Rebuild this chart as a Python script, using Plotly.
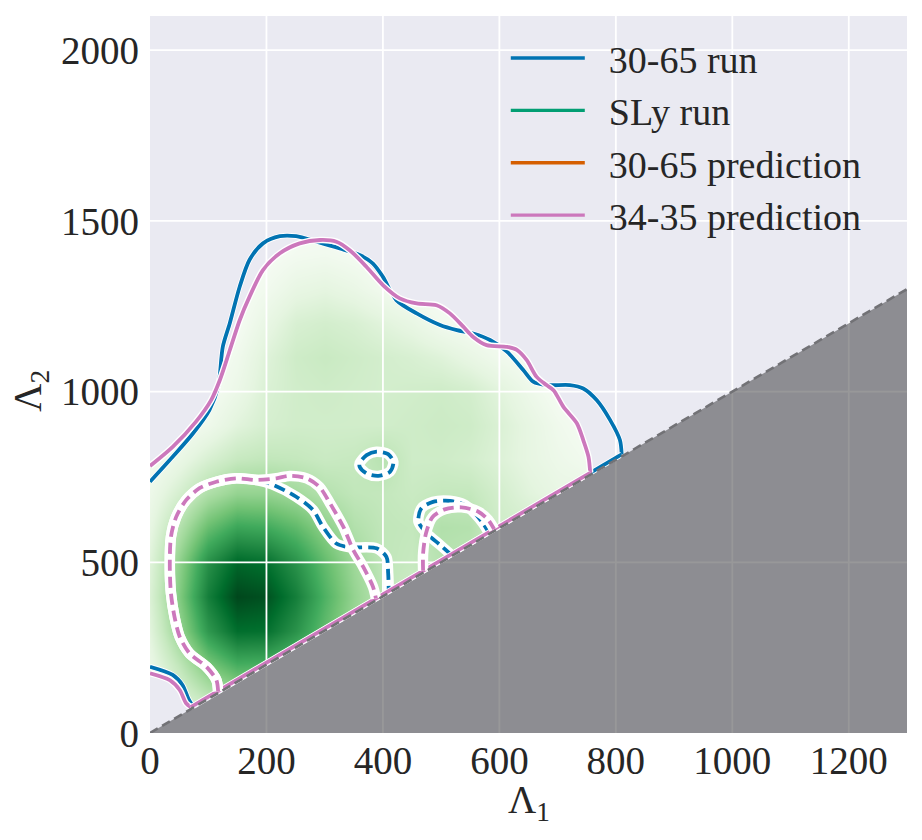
import plotly.graph_objects as go

# ---------------- data ----------------
# density grid (normalised 0..1)
dens_x = [0, 50, 100, 150, 200, 250, 300, 350, 400, 450, 500, 550, 600, 650, 700, 750, 800, 850]
dens_y = [0, 100, 200, 300, 400, 500, 600, 700, 800, 900, 1000, 1100, 1200, 1300, 1400, 1500]
dens_z = [
    [0.10, 0.12, 0.14, 0.15, 0.15, 0.14, 0.12, 0.10, 0.10, 0.10, 0.10, 0.10, 0.10, 0.10, 0.10, 0.10, 0.10, 0.10],
    [0.06, 0.16, 0.27, 0.35, 0.36, 0.30, 0.24, 0.20, 0.20, 0.20, 0.20, 0.20, 0.20, 0.20, 0.20, 0.20, 0.20, 0.20],
    [0.09, 0.27, 0.48, 0.61, 0.60, 0.52, 0.40, 0.29, 0.22, 0.19, 0.18, 0.18, 0.18, 0.18, 0.18, 0.18, 0.18, 0.18],
    [0.14, 0.40, 0.70, 0.87, 0.86, 0.72, 0.54, 0.38, 0.27, 0.22, 0.20, 0.20, 0.20, 0.20, 0.20, 0.20, 0.20, 0.20],
    [0.17, 0.46, 0.80, 0.99, 0.96, 0.80, 0.59, 0.41, 0.28, 0.22, 0.22, 0.22, 0.20, 0.20, 0.20, 0.20, 0.20, 0.20],
    [0.15, 0.42, 0.73, 0.89, 0.86, 0.72, 0.54, 0.38, 0.27, 0.25, 0.30, 0.28, 0.22, 0.20, 0.20, 0.20, 0.20, 0.20],
    [0.11, 0.31, 0.53, 0.65, 0.63, 0.55, 0.43, 0.32, 0.27, 0.26, 0.32, 0.31, 0.22, 0.20, 0.20, 0.20, 0.20, 0.20],
    [0.07, 0.19, 0.33, 0.41, 0.41, 0.37, 0.31, 0.27, 0.26, 0.24, 0.26, 0.26, 0.20, 0.14, 0.10, 0.10, 0.10, 0.10],
    [0.02, 0.09, 0.18, 0.25, 0.27, 0.26, 0.24, 0.25, 0.30, 0.22, 0.22, 0.20, 0.16, 0.11, 0.07, 0.04, 0.02, 0.02],
    [0.00, 0.01, 0.06, 0.14, 0.19, 0.21, 0.21, 0.21, 0.21, 0.22, 0.23, 0.22, 0.17, 0.11, 0.05, 0.01, 0.00, 0.00],
    [0.00, 0.00, 0.01, 0.08, 0.17, 0.21, 0.22, 0.21, 0.20, 0.21, 0.22, 0.20, 0.14, 0.07, 0.01, 0.00, 0.00, 0.00],
    [0.00, 0.00, 0.00, 0.05, 0.15, 0.22, 0.24, 0.22, 0.20, 0.18, 0.15, 0.10, 0.05, 0.01, 0.00, 0.00, 0.00, 0.00],
    [0.00, 0.00, 0.00, 0.01, 0.10, 0.18, 0.20, 0.18, 0.14, 0.10, 0.04, 0.01, 0.00, 0.00, 0.00, 0.00, 0.00, 0.00],
    [0.00, 0.00, 0.00, 0.00, 0.04, 0.10, 0.12, 0.09, 0.04, 0.00, 0.00, 0.00, 0.00, 0.00, 0.00, 0.00, 0.00, 0.00],
    [0.00, 0.00, 0.00, 0.00, 0.00, 0.03, 0.04, 0.02, 0.00, 0.00, 0.00, 0.00, 0.00, 0.00, 0.00, 0.00, 0.00, 0.00],
    [0.00, 0.00, 0.00, 0.00, 0.00, 0.00, 0.00, 0.00, 0.00, 0.00, 0.00, 0.00, 0.00, 0.00, 0.00, 0.00, 0.00, 0.00],
]

# 30-65 run, 90% contour (solid)
run3065_up_x = [0, 39, 74, 102, 117, 125, 137, 154, 171, 194, 223, 251, 286, 326, 360, 383, 400, 423, 458, 498,
                527, 555, 584, 613, 641, 658, 681, 721, 744, 767, 790, 807, 810]
run3065_up_y = [736, 809, 878, 946, 1014, 1131, 1200, 1307, 1386, 1434, 1455, 1455, 1439, 1419, 1400, 1375, 1336,
                1268, 1229, 1195, 1180, 1170, 1151, 1117, 1063, 1029, 1019, 1019, 1009, 975, 917, 858, 816]
run3065_ll_x = [0, 39, 56, 66, 74]
run3065_ll_y = [194, 170, 140, 100, 78]

# 34-35 prediction, 90% contour (solid)
pred3435_up_x = [0, 39, 79, 105, 120, 137, 154, 171, 194, 223, 257, 292, 320, 343, 372, 400, 429, 458, 492, 515,
                 538, 555, 578, 613, 630, 647, 664, 681, 693, 710, 733, 744, 753, 756]
pred3435_up_y = [782, 838, 912, 975, 1034, 1121, 1209, 1278, 1356, 1405, 1434, 1444, 1439, 1414, 1365, 1312, 1273,
                 1258, 1253, 1229, 1190, 1160, 1136, 1131, 1122, 1092, 1043, 1019, 1004, 955, 907, 858, 809, 762]
pred3435_ll_x = [0, 34, 51, 62, 70]
pred3435_ll_y = [175, 155, 126, 87, 76]

# 50% contours (dashed); shared left flank of the main lobe
lobe_left_x = [117, 114, 97, 68, 51, 42, 36, 34, 36, 45, 62, 85, 114, 148, 183]
lobe_left_y = [122, 155, 194, 233, 282, 341, 409, 487, 575, 633, 682, 717, 736, 746, 741]
pred3435_lobe_x = [217, 240, 269, 291, 309, 332, 349, 366, 383, 388]
pred3435_lobe_y = [746, 753, 746, 721, 673, 604, 536, 487, 428, 394]
run3065_lobe_x = [210, 251, 280, 297, 320, 343, 389, 406, 409, 410]
run3065_lobe_y = [728, 692, 653, 604, 555, 544, 541, 516, 468, 414]
run3065_ring_x = [360, 372, 389, 409, 418, 412, 392, 372, 360, 360]
run3065_ring_y = [790, 814, 824, 817, 794, 765, 753, 760, 780, 790]
run3065_loop_x = [518, 498, 475, 461, 466, 486, 515, 541, 558, 572, 581]
run3065_loop_y = [521, 551, 585, 619, 658, 677, 680, 668, 643, 614, 589]
pred3435_loop_x = [469, 469, 474, 485, 506, 535, 564, 581, 591]
pred3435_loop_y = [475, 526, 585, 632, 655, 661, 648, 624, 597]

legend_names = ["30-65 run", "SLy run", "30-65 prediction", "34-35 prediction"]
legend_colors = ["#0173B2", "#029E73", "#D55E00", "#CC78BC"]

x_ticks = [0, 200, 400, 600, 800, 1000, 1200]
y_ticks = [0, 500, 1000, 1500, 2000]
x_max, y_max = 1300, 2100
x_title, y_title = "Λ<sub>1</sub>", "Λ<sub>2</sub>"

BG = "#EAEAF2"
FONT = "Liberation Serif"
BLUE, PINK = legend_colors[0], legend_colors[3]

greens = [[0, "#f7fcf5"], [0.125, "#e5f5e0"], [0.25, "#c7e9c0"], [0.375, "#a1d99b"], [0.5, "#74c476"],
          [0.625, "#41ab5d"], [0.75, "#238b45"], [0.875, "#006d2c"], [1, "#00441b"]]

fig = go.Figure()

# density
fig.add_trace(go.Heatmap(x=dens_x, y=dens_y, z=dens_z, colorscale=greens, zmin=0, zmax=1,
                         zsmooth="best", showscale=False, hoverinfo="skip"))

# mask outside the shaded region (background colour)
mask_x = [0, 0, x_max, x_max, 0] + pred3435_ll_x + pred3435_up_x[::-1]
mask_y = [pred3435_up_y[0], y_max, y_max, 0, 0] + pred3435_ll_y + pred3435_up_y[::-1]
fig.add_trace(go.Scatter(x=mask_x, y=mask_y, fill="toself", fillcolor=BG, mode="lines",
                         line=dict(width=0, color=BG), hoverinfo="skip", showlegend=False))

# grid lines drawn above the density
gx, gy = [], []
for t in x_ticks[1:]:
    gx += [t, t, None]
    gy += [0, y_max, None]
for t in y_ticks[1:]:
    gx += [0, x_max, None]
    gy += [t, t, None]
fig.add_trace(go.Scatter(x=gx, y=gy, mode="lines", line=dict(color="white", width=1.8),
                         hoverinfo="skip", showlegend=False))

# forbidden region Lambda2 < Lambda1
fig.add_trace(go.Scatter(x=[0, x_max, x_max, 0], y=[0, x_max, 0, 0], fill="toself",
                         fillcolor="rgba(40,40,42,0.48)", mode="lines", line=dict(width=0),
                         hoverinfo="skip", showlegend=False))


def contour(xs, ys, color, dash=None, width=3.8, halo=6.5, shape="spline"):
    fig.add_trace(go.Scatter(x=xs, y=ys, mode="lines",
                             line=dict(color="white", width=halo, shape=shape, smoothing=0.8),
                             hoverinfo="skip", showlegend=False))
    ln = dict(color=color, width=width, shape=shape, smoothing=0.8)
    if dash:
        ln["dash"] = dash
    fig.add_trace(go.Scatter(x=xs, y=ys, mode="lines", line=ln, hoverinfo="skip", showlegend=False))


DASH = "11px,6px"
# 30-65 run
contour(run3065_up_x, run3065_up_y, BLUE, halo=5.5)
contour(run3065_ll_x, run3065_ll_y, BLUE, halo=5.5)
contour([run3065_ll_x[-1], run3065_up_x[-1]], [run3065_ll_y[-1], run3065_up_y[-1]], BLUE, halo=5.5, shape="linear")
contour(lobe_left_x + run3065_lobe_x, lobe_left_y + run3065_lobe_y, BLUE, dash=DASH, width=3.8, halo=10.5)
contour(run3065_ring_x, run3065_ring_y, BLUE, dash=DASH, width=3.8, halo=10.5)
contour(run3065_loop_x, run3065_loop_y, BLUE, dash=DASH, width=3.8, halo=10.5)
# 34-35 prediction
contour(pred3435_up_x, pred3435_up_y, PINK, halo=6.5)
contour(pred3435_ll_x, pred3435_ll_y, PINK, halo=6.5)
contour([pred3435_ll_x[-1], pred3435_up_x[-1]], [pred3435_ll_y[-1], pred3435_up_y[-1]], PINK, halo=5.5, shape="linear")
contour(lobe_left_x + pred3435_lobe_x, lobe_left_y + pred3435_lobe_y, PINK, dash=DASH, width=3.8, halo=10.5)
contour(pred3435_loop_x, pred3435_loop_y, PINK, dash=DASH, width=3.8, halo=10.5)

# boundary Lambda2 = Lambda1
fig.add_trace(go.Scatter(x=[0, x_max], y=[0, x_max], mode="lines",
                         line=dict(color="#727276", width=2.6, dash="9px,5px"),
                         hoverinfo="skip", showlegend=False))

# legend entries
for name, col in zip(legend_names, legend_colors):
    fig.add_trace(go.Scatter(x=[None], y=[None], mode="lines", name="\u00a0\u00a0" + name,
                             line=dict(color=col, width=3.4)))

fig.update_layout(
    width=922, height=840,
    margin=dict(l=150, r=15, t=16, b=107),
    paper_bgcolor="white", plot_bgcolor=BG,
    font=dict(family=FONT, size=39, color="#262626"),
    showlegend=True,
    legend=dict(x=0.47, y=0.985, xanchor="left", yanchor="top", bgcolor="rgba(0,0,0,0)",
                font=dict(family=FONT, size=38, color="#262626"), itemwidth=74,
                tracegroupgap=0),
    xaxis=dict(range=[0, x_max], tickvals=x_ticks, showgrid=False, zeroline=False, ticks="",
               showline=False, ticklabelstandoff=1),
    yaxis=dict(range=[0, y_max], tickvals=y_ticks, showgrid=False, zeroline=False, ticks="",
               showline=False, ticklabelstandoff=10),
    annotations=[
        dict(text=x_title, xref="paper", yref="paper", x=0.5, y=-0.097, xanchor="center",
             yanchor="middle", showarrow=False, font=dict(family=FONT, size=39, color="#262626")),
        dict(text=y_title, xref="paper", yref="paper", x=-0.158, y=0.478, xanchor="center",
             yanchor="middle", textangle=-90, showarrow=False,
             font=dict(family=FONT, size=39, color="#262626")),
    ],
)

fig.write_html("out.html")
